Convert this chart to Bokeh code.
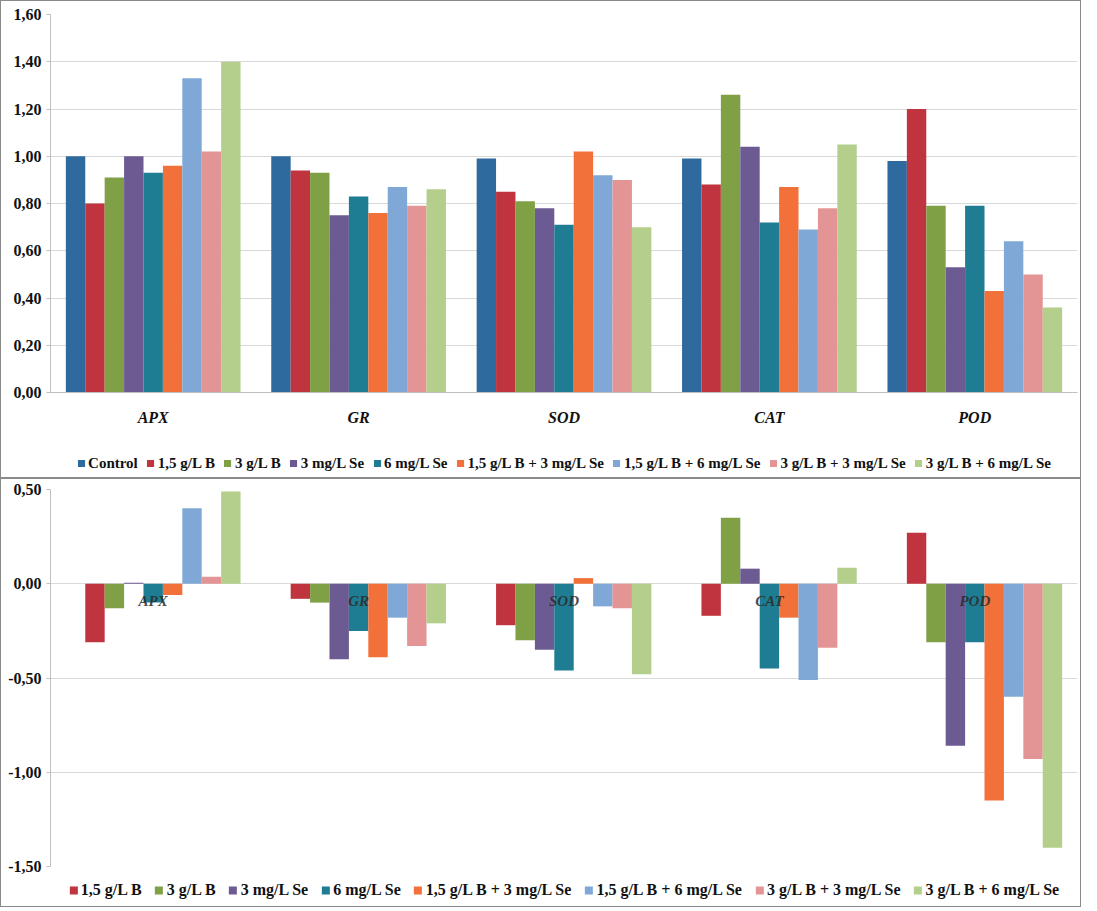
from bokeh.plotting import figure
from bokeh.layouts import column
from bokeh.models import (ColumnDataSource, Range1d, FactorRange, SingleIntervalTicker,
                          CustomJSTickFormatter, Legend, LegendItem)
from bokeh.transform import dodge
from bokeh.core.properties import value
from bokeh.embed import file_html
from bokeh.resources import INLINE

categories = ["APX", "GR", "SOD", "CAT", "POD"]
series = ["Control", "1,5 g/L B", "3 g/L B", "3 mg/L Se", "6 mg/L Se",
          "1,5 g/L B + 3 mg/L Se", "1,5 g/L B + 6 mg/L Se",
          "3 g/L B + 3 mg/L Se", "3 g/L B + 6 mg/L Se"]
colors = ["#2E6A9E", "#C0343F", "#7FA045", "#6C5A93", "#1F7D93",
          "#F2703A", "#7FA8D6", "#E39494", "#B4CF8C"]

# top chart: relative activity
top_values = {
    "Control":               [1.00, 1.00, 0.99, 0.99, 0.98],
    "1,5 g/L B":             [0.80, 0.94, 0.85, 0.88, 1.20],
    "3 g/L B":               [0.91, 0.93, 0.81, 1.26, 0.79],
    "3 mg/L Se":             [1.00, 0.75, 0.78, 1.04, 0.53],
    "6 mg/L Se":             [0.93, 0.83, 0.71, 0.72, 0.79],
    "1,5 g/L B + 3 mg/L Se": [0.96, 0.76, 1.02, 0.87, 0.43],
    "1,5 g/L B + 6 mg/L Se": [1.33, 0.87, 0.92, 0.69, 0.64],
    "3 g/L B + 3 mg/L Se":   [1.02, 0.79, 0.90, 0.78, 0.50],
    "3 g/L B + 6 mg/L Se":   [1.40, 0.86, 0.70, 1.05, 0.36],
}

# bottom chart: log-ratio vs control (no control series)
bottom_values = {
    "1,5 g/L B":             [-0.31, -0.08, -0.22, -0.17, 0.27],
    "3 g/L B":               [-0.13, -0.10, -0.30, 0.35, -0.31],
    "3 mg/L Se":             [0.005, -0.40, -0.35, 0.08, -0.86],
    "6 mg/L Se":             [-0.10, -0.25, -0.46, -0.45, -0.31],
    "1,5 g/L B + 3 mg/L Se": [-0.06, -0.39, 0.03, -0.18, -1.15],
    "1,5 g/L B + 6 mg/L Se": [0.40, -0.18, -0.12, -0.51, -0.60],
    "3 g/L B + 3 mg/L Se":   [0.037, -0.33, -0.13, -0.34, -0.93],
    "3 g/L B + 6 mg/L Se":   [0.49, -0.21, -0.48, 0.085, -1.40],
}

BAR_W = 0.0945
LABEL_Y = -0.09
FONT = "Liberation Serif"
W = 1079
fmt = CustomJSTickFormatter(code="return tick.toFixed(2).replace('.', ',');")


def style(p):
    p.background_fill_color = "white"
    p.border_fill_color = "white"
    p.outline_line_color = None
    p.xgrid.grid_line_color = None
    p.ygrid.grid_line_color = "#D9D9D9"
    p.yaxis.formatter = fmt
    p.yaxis.major_label_text_font = FONT
    p.yaxis.major_label_text_font_style = "bold"
    p.yaxis.major_label_text_font_size = "16px"
    p.yaxis.major_label_text_color = "#111111"
    p.yaxis.axis_line_color = "#BFBFBF"
    p.yaxis.major_tick_line_color = "#BFBFBF"
    p.yaxis.major_tick_out = 4
    p.yaxis.major_tick_in = 0
    p.yaxis.minor_tick_line_color = None
    p.yaxis.major_label_standoff = 5


def legend_fig(src, names, cols, height, font_size, glyph, spacing):
    lf = figure(width=W, height=height, x_range=FactorRange(*categories), y_range=Range1d(0, 1),
                output_backend="svg", toolbar_location=None,
                x_axis_location=None, y_axis_location=None, min_border=0)
    lf.xgrid.visible = False
    lf.ygrid.visible = False
    lf.outline_line_color = None
    lf.background_fill_color = "white"
    lf.border_fill_color = "white"
    items = []
    for i, (label, c) in enumerate(zip(names, cols)):
        r = lf.vbar(x="cat", top=f"s{i}", width=0.1, source=src,
                    fill_color=c, line_color=None, visible=False)
        items.append(LegendItem(label=label, renderers=[r]))
    lf.add_layout(Legend(items=items, orientation="horizontal", location="center",
                         label_text_font=FONT, label_text_font_style="bold",
                         label_text_font_size=font_size, label_text_color="#111111",
                         glyph_width=glyph, glyph_height=glyph, label_standoff=3,
                         spacing=spacing, padding=0, margin=0, border_line_color=None,
                         background_fill_alpha=0, inactive_fill_alpha=0))
    return lf


# ---------- top ----------
top_src = ColumnDataSource(dict(cat=categories, **{f"s{i}": top_values[s] for i, s in enumerate(series)}))
p1 = figure(x_range=FactorRange(*categories), y_range=Range1d(0, 1.6),
            width=W, height=448, output_backend="svg", toolbar_location=None,
            min_border_left=49, min_border_top=13, min_border_bottom=57, min_border_right=3)
style(p1)
p1.yaxis.ticker = SingleIntervalTicker(interval=0.2)
p1.xaxis.axis_line_color = "#BFBFBF"
p1.xaxis.major_tick_line_color = None
p1.xaxis.minor_tick_line_color = None
p1.xaxis.major_label_text_font = FONT
p1.xaxis.major_label_text_font_style = "bold italic"
p1.xaxis.major_label_text_font_size = "16px"
p1.xaxis.major_label_text_color = "#111111"
p1.xaxis.major_label_standoff = 10
for i, s in enumerate(series):
    p1.vbar(x=dodge("cat", (i - 4) * BAR_W, range=p1.x_range), top=f"s{i}", width=BAR_W,
            source=top_src, fill_color=colors[i], line_color=None)
l1 = legend_fig(top_src, series, colors, 28, "15px", 9, 8)

# ---------- bottom ----------
bseries = series[1:]
bot_src = ColumnDataSource(dict(cat=categories, label_y=[LABEL_Y] * len(categories),
                                **{f"s{i}": bottom_values[s] for i, s in enumerate(bseries)}))
p2 = figure(x_range=FactorRange(*categories), y_range=Range1d(-1.5, 0.5),
            width=W, height=395, output_backend="svg", toolbar_location=None,
            x_axis_location=None,
            min_border_left=49, min_border_top=10, min_border_bottom=8, min_border_right=3)
style(p2)
p2.yaxis.ticker = SingleIntervalTicker(interval=0.5)
for i, s in enumerate(bseries):
    p2.vbar(x=dodge("cat", (i - 3) * BAR_W, range=p2.x_range), top=f"s{i}", width=BAR_W,
            source=bot_src, fill_color=colors[i + 1], line_color=None)
p2.text(x="cat", y="label_y", text="cat", source=bot_src, text_align="center",
        text_baseline="middle", text_font=value(FONT), text_font_style="bold italic",
        text_font_size="15px", text_color="#2A2A2A", text_alpha=0.85)
l2 = legend_fig(bot_src, bseries, colors[1:], 32, "16px", 10, 12)

box = {"border": "1px solid #8A8A8A"}
layout = column(column(p1, l1, spacing=0, styles=box),
                column(p2, l2, spacing=0, styles=box), spacing=0)
open("out.html", "w").write(file_html(layout, INLINE))
